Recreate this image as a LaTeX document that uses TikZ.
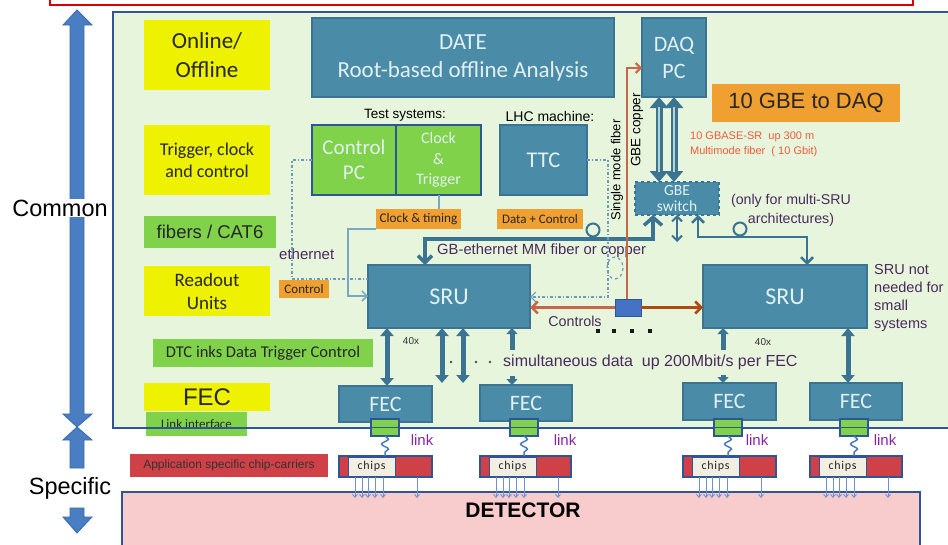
\documentclass[tikz,border=0pt]{standalone}
\usepackage{fontspec}
\setmainfont{Carlito}
\newfontfamily\arial{Liberation Sans}
\usetikzlibrary{arrows.meta,calc,decorations.pathmorphing,shapes.geometric}
\definecolor{teal1}{HTML}{4A8CA8}
\definecolor{tealb}{HTML}{3B7492}
\definecolor{bgreen}{HTML}{E7F5DC}
\definecolor{frame}{HTML}{2F5597}
\definecolor{yel}{HTML}{EEF200}
\definecolor{lgreen}{HTML}{80D24A}
\definecolor{orng}{HTML}{F0A030}
\definecolor{txtw}{HTML}{E2F0F2}
\definecolor{purp}{HTML}{4A2A5E}
\definecolor{linkp}{HTML}{8A22A8}
\definecolor{fib}{HTML}{C8664A}
\definecolor{fibb}{HTML}{B04A10}
\definecolor{ddc}{HTML}{6E9CB8}
\definecolor{clkc}{HTML}{78A8C2}
\definecolor{ccred}{HTML}{CF4146}
\definecolor{beige}{HTML}{F2EEE2}
\definecolor{bigarr}{HTML}{4A7EC2}
\definecolor{bigarrb}{HTML}{3A68A8}
\definecolor{detp}{HTML}{F8CCCC}
\definecolor{redt}{HTML}{F05A3A}
\definecolor{chipa}{HTML}{6F8FD0}
\definecolor{wavec}{HTML}{4A7AC0}
\definecolor{bluebx}{HTML}{4472C4}
\begin{document}
\begin{tikzpicture}[x=1pt,y=-1pt,
  box/.style={anchor=north west, inner sep=0pt, outer sep=0pt, align=center},
  tbox/.style={box, fill=teal1, draw=tealb, line width=1.2pt, text=txtw},
  gbox/.style={box, fill=lgreen, draw=frame, line width=1.2pt, text=txtw},
  ylab/.style={box, fill=yel, text=black!85},
  glab/.style={box, fill=lgreen, text=black!85},
  olab/.style={box, fill=orng, text=black!85},
  lbl/.style={inner sep=0pt, text=purp, font=\arial\fontsize{14}{17}\selectfont},
  thk/.style={draw=tealb, line width=3.5pt},
  fecarr/.style={draw=tealb, line width=5pt, {Triangle[length=8pt,width=13pt]}-{Triangle[length=8pt,width=13pt]}},
  dd/.style={draw=ddc, line width=1.2pt, dash dot},
  clk/.style={draw=clkc, line width=1.5pt},
  fiber/.style={draw=fib, line width=2pt},
  chipar/.style={draw=chipa, line width=0.9pt, -{Straight Barb[length=3pt,width=5pt]}},
  wave/.style={draw=wavec, line width=1.5pt, decorate, decoration={snake, amplitude=3.5pt, segment length=10pt}}
]
\useasboundingbox (0,0) rectangle (948,544);
% top red frame
\draw[red!85!black, line width=1.5pt] (50,-10) rectangle (913,5);
% common region
\fill[bgreen] (113,12) rectangle (960,428);
% detector
\node[box, fill=detp, draw=frame, line width=1.5pt, minimum width=798, minimum height=70] (det) at (122,492) {};
\node[font=\arial\bfseries\fontsize{21}{24}\selectfont] (dettxt) at (523,510) {DETECTOR};
% left big arrows
\fill[bigarr, draw=bigarrb, line width=0.8pt] (70,25) -- (63,25) -- (77,10) -- (92,25) -- (84,25) -- (84,414) -- (92,414) -- (77,427) -- (63,414) -- (70,414) -- cycle;
\fill[bigarr, draw=bigarrb, line width=0.8pt] (77,427) -- (92,440) -- (84,440) -- (84,468) -- (70,468) -- (70,440) -- (63,440) -- cycle;
\fill[bigarr, draw=bigarrb, line width=0.8pt] (70,508) -- (84,508) -- (84,517) -- (92,517) -- (77,533) -- (63,517) -- (70,517) -- cycle;
\node[fill=white, inner sep=1pt, font=\arial\fontsize{23.5}{26}\selectfont] (common) at (60,208) {Common};
\node[fill=white, inner sep=1pt, font=\arial\fontsize{23.5}{26}\selectfont] (specific) at (70,488) {Specific};
% left column labels
\node[ylab, minimum width=126, minimum height=70, font=\fontsize{23}{29}\selectfont] (online) at (144,20) {Online/\\Offline};
\node[ylab, minimum width=126, minimum height=70, font=\fontsize{18}{22}\selectfont] (trig) at (144,125) {Trigger, clock\\and control};
\node[glab, minimum width=132, minimum height=32, font=\arial\fontsize{18.5}{20}\selectfont] (fibers) at (144,216) {fibers / CAT6};
\node[ylab, minimum width=126, minimum height=50, font=\fontsize{19}{23}\selectfont] (readout) at (144,266) {Readout\\Units};
\node[glab, minimum width=220, minimum height=28, font=\fontsize{16.5}{18}\selectfont] (dtc) at (153,339) {DTC inks Data Trigger Control};
\node[ylab, minimum width=126, minimum height=28, font=\arial\fontsize{24}{26}\selectfont] (feclab) at (144,383) {FEC};
\node[glab, minimum width=101, minimum height=24, font=\fontsize{13}{15}\selectfont] (linkif) at (146,412) {Link interface};
\node[box, fill=ccred, minimum width=198, minimum height=23, text=black!80, font=\arial\fontsize{12}{13}\selectfont] (appl) at (130,454) {Application specific chip-carriers};
% region border
\draw[frame, line width=1.5pt] (113,12) rectangle (960,428);
% top boxes
\node[tbox, minimum width=302, minimum height=79, font=\fontsize{23}{28}\selectfont] (date) at (312,18) {DATE\\Root-based offline Analysis};
\node[font=\arial\fontsize{13.5}{15}\selectfont] (testsys) at (405,115) {Test systems:};
\node[font=\arial\fontsize{14}{16}\selectfont] (lhc) at (550,116) {LHC machine:};
\node[gbox, minimum width=84, minimum height=70, font=\fontsize{21}{25}\selectfont] (ctrlpc) at (312,125) {Control\\PC};
\node[gbox, minimum width=85, minimum height=70, font=\fontsize{16}{20.5}\selectfont] (clktrig) at (396,125) {Clock\\\&\\Trigger};
\node[tbox, minimum width=87, minimum height=70, font=\fontsize{22.5}{24}\selectfont] (ttc) at (500,125) {TTC};
\node[tbox, minimum width=64, minimum height=79, font=\fontsize{22}{27}\selectfont] (daqpc) at (642,18) {DAQ\\PC};
\node[olab, minimum width=188, minimum height=38, font=\arial\fontsize{22}{24}\selectfont] (gbe10) at (712,84) {10 GBE to DAQ};
\node[anchor=west, inner sep=0pt, text=redt, font=\arial\fontsize{11}{12}\selectfont] (gbase1) at (690,137) {10 GBASE-SR~ up 300 m};
\node[anchor=west, inner sep=0pt, text=redt, font=\arial\fontsize{11}{12}\selectfont] (gbase2) at (690,152) {Multimode fiber~ ( 10 Gbit)};
\node[box, fill=teal1, draw=tealb, line width=1.5pt, dashed, text=txtw, minimum width=84, minimum height=33, font=\fontsize{15.5}{16}\selectfont] (gbesw) at (635,182) {GBE\\switch};
\node[lbl, align=center, font=\arial\fontsize{14.2}{19}\selectfont] (only) at (791,210) {(only for multi-SRU\\architectures)};
% orange small labels
\node[olab, minimum width=85, minimum height=20, font=\fontsize{13.2}{14}\selectfont] (clktime) at (376,209) {Clock \& timing};
\node[olab, minimum width=86, minimum height=20, font=\fontsize{13}{14}\selectfont] (datactl) at (497,209) {Data + Control};
\node[olab, minimum width=50, minimum height=18, font=\fontsize{13}{14}\selectfont] (ctlsmall) at (279,280) {Control};
% SRUs
\node[tbox, minimum width=162, minimum height=63, font=\fontsize{24}{26}\selectfont] (sru1) at (368,265) {SRU};
\node[tbox, minimum width=164, minimum height=63, font=\fontsize{24}{26}\selectfont] (sru2) at (703,265) {SRU};
\node[lbl, anchor=north west, align=left, font=\arial\fontsize{14.5}{18}\selectfont] (srunot) at (874,264) {SRU not\\needed for\\small\\systems};
\node[box, fill=bluebx, draw=frame, line width=1pt, minimum width=26, minimum height=17] (bluebox) at (615,299) {};
% text labels
\node[lbl, anchor=west, font=\arial\fontsize{15}{17}\selectfont] (ethernet) at (279,254) {ethernet};
\node[lbl, anchor=west, font=\arial\fontsize{14.8}{17}\selectfont] (gbeth) at (437,251) {GB-ethernet MM fiber or copper};
\node[lbl, font=\arial\fontsize{14.3}{17}\selectfont] (controls) at (575,321) {Controls};
\node[lbl, anchor=west, font=\arial\fontsize{16}{18}\selectfont] (simul) at (503,362) {simultaneous data~ up 200Mbit/s per FEC};
\node[inner sep=0pt, font=\arial\fontsize{10}{12}\selectfont, text=black!80] (x40a) at (411,341) {40x};
\node[inner sep=0pt, font=\arial\fontsize{10}{12}\selectfont, text=black!80] (x40b) at (763,342) {40x};
\node[inner sep=0pt, rotate=90, font=\arial\fontsize{13}{14}\selectfont] (smf) at (617,170) {Single mode fiber};
\node[inner sep=0pt, rotate=90, font=\arial\fontsize{13.5}{15}\selectfont] (gbecu) at (637,130) {GBE copper};
% FECs
\node[tbox, minimum width=93, minimum height=36, font=\fontsize{22}{24}\selectfont] (fec1) at (339,386) {FEC};
\node[tbox, minimum width=92, minimum height=36, font=\fontsize{22}{24}\selectfont] (fec2) at (480,385) {FEC};
\node[tbox, minimum width=93, minimum height=37, font=\fontsize{22}{24}\selectfont] (fec3) at (683,383) {FEC};
\node[tbox, minimum width=92, minimum height=37, font=\fontsize{22}{24}\selectfont] (fec4) at (810,383) {FEC};
% link interface boxes
\foreach \n/\x in {li1/371, li2/510, li3/714, li4/840}{
  \node[box, fill=lgreen, draw=frame, line width=1.5pt, minimum width=28, minimum height=17] (\n) at (\x,419) {};
  \draw[frame, line width=1pt] (\n.west) -- (\n.east);
}
% chip carriers
\foreach \n/\x/\w in {cc1/339/93, cc2/480/91, cc3/683/93, cc4/810/92}{
  \node[box, fill=ccred, draw=frame, line width=1.5pt, minimum width=\w, minimum height=21] (\n) at (\x,456) {};
  \node[box, fill=beige, draw=frame, line width=0.8pt, minimum width=47, minimum height=19, font=\fontsize{12}{13}\selectfont, text=black!85] (\n c) at ($(\n.north west)+(9,1)$) {c\kern0.7pt h\kern0.7pt i\kern0.7pt p\kern0.7pt s};
  \foreach \dx in {16,23,29,36,44,78}
    \draw[chipar] ($(\n.south west)+(\dx,0)$) -- ++(0,21);
}
% link waves and labels
\foreach \a/\b in {li1/cc1, li2/cc2, li3/cc3, li4/cc4}
  \draw[wave] (\a.south) -- (\b.north -| \a.south);
\foreach \x in {422, 565, 757, 885}
  \node[inner sep=0pt, text=linkp, font=\arial\fontsize{15}{17}\selectfont] at (\x,440) {link};
% GB-ethernet connections
\coordinate (sA) at (425,239);
\coordinate (gL) at (653,239);
\draw[thk, {Straight Barb[length=7pt,width=14pt]}-{Straight Barb[length=8pt,width=18pt]}] (sru1.north -| sA) -- (sA) -- (gL) -- (gbesw.south -| gL);
\coordinate (gM) at (677,242);
\draw[draw=tealb, line width=2pt, {Straight Barb[length=5pt,width=10pt]}-{Straight Barb[length=5pt,width=10pt]}] (gbesw.south -| gM) -- (gM);
\coordinate (gR) at (698,237);
\coordinate (sB) at (807,237);
\draw[draw=tealb, line width=2.5pt, {Straight Barb[length=6pt,width=12pt]}-{Straight Barb[length=6pt,width=12pt]}] (gbesw.south -| gR) -- (gR) -- (sB) -- (sru2.north -| sB);
\node[circle, draw=tealb, line width=2pt, fill=bgreen, minimum size=13pt, inner sep=0pt] (c1) at (593,230) {};
\node[circle, draw=tealb, line width=2pt, fill=bgreen, minimum size=13pt, inner sep=0pt] (c2) at (740,229) {};
% DAQ - GBE switch double arrows
\coordinate (dq1) at (659,100);
\coordinate (dq2) at (674,100);
\draw[draw=tealb, line width=7pt, {Triangle[length=11pt,width=18pt]}-{Triangle[length=11pt,width=18pt]}] (daqpc.south -| dq1) -- (gbesw.north -| dq1);
\draw[draw=tealb, line width=7pt, {Triangle[length=11pt,width=18pt]}-{Triangle[length=11pt,width=18pt]}] (daqpc.south -| dq2) -- (gbesw.north -| dq2);
\draw[draw=bgreen!70!teal1, line width=2pt, shorten <=10pt, shorten >=10pt] (daqpc.south -| dq1) -- (gbesw.north -| dq1);
\draw[draw=bgreen!70!teal1, line width=2pt, shorten <=10pt, shorten >=10pt] (daqpc.south -| dq2) -- (gbesw.north -| dq2);
% fiber
\coordinate (f1) at (627,68);
\draw[fiber, -{Straight Barb[length=5pt,width=10pt]}] (bluebox.north -| f1) -- (f1) -- (daqpc.west |- f1);
\draw[draw=fib, line width=2.5pt, -{Straight Barb[length=6pt,width=12pt]}] (bluebox.west) -- (sru1.east |- bluebox.west);
\draw[draw=fibb, line width=2.5pt, -{Straight Barb[length=6pt,width=12pt]}] (bluebox.east) -- (sru2.west |- bluebox.east);
% dash-dot ethernet lines
\coordinate (e1) at (292,160);
\coordinate (e2) at (292,279);
\draw[dd] (ctrlpc.west |- e1) -- (e1) -- (e2) -- (sru1.west |- e2);
\coordinate (t1) at (608,160);
\coordinate (t2) at (608,297);
\draw[dd, -{Straight Barb[length=5pt,width=10pt]}] (ttc.east |- t1) -- (t1) -- (t2) -- (sru1.east |- t2);
\draw[draw=ddc, line width=1.2pt, dashed] (615,268) ellipse [x radius=8, y radius=11];
% clock lines
\coordinate (k0) at (439,200);
\draw[clk] (clktrig.south -| k0) -- (clktime.north -| k0);
\coordinate (k1) at (348,229);
\coordinate (k2) at (348,296);
\draw[clk, -{Straight Barb[length=5pt,width=10pt]}] (clktime.south west) -- (k1) -- (k2) -- (sru1.west |- k2);
% SRU -> FEC arrows
\coordinate (a1) at (387,383);
\coordinate (a2) at (442,383);
\coordinate (a3) at (463,383);
\coordinate (a4) at (512,350);
\coordinate (a5) at (723,350);
\coordinate (a6) at (848,383);
\coordinate (a4b) at (512,376);
\coordinate (a5b) at (723,375);
\draw[fecarr] (sru1.south -| a1) -- (fec1.north -| a1);
\draw[fecarr] (sru1.south -| a2) -- (a2);
\draw[fecarr] (sru1.south -| a3) -- (a3);
\draw[draw=tealb, line width=5pt, {Triangle[length=6pt,width=11pt]}-] (sru1.south -| a4) -- (a4);
\draw[draw=tealb, line width=5pt, {Triangle[length=6pt,width=11pt]}-] (sru2.south -| a5) -- (a5);
\draw[draw=tealb, line width=5pt, -{Triangle[length=6pt,width=11pt]}] (a4b) -- (fec2.north -| a4b);
\draw[draw=tealb, line width=5pt, -{Triangle[length=6pt,width=11pt]}] (a5b) -- (fec3.north -| a5b);
\draw[fecarr] (sru2.south -| a6) -- (fec4.north -| a6);
% dots
\foreach \x in {451, 476, 490}
  \fill[black!70] (\x,362) circle [radius=1.3];
\foreach \x in {598, 614, 632, 650}
  \fill[black!90] (\x-2,329) rectangle (\x+2,333);
\end{tikzpicture}
\end{document}
